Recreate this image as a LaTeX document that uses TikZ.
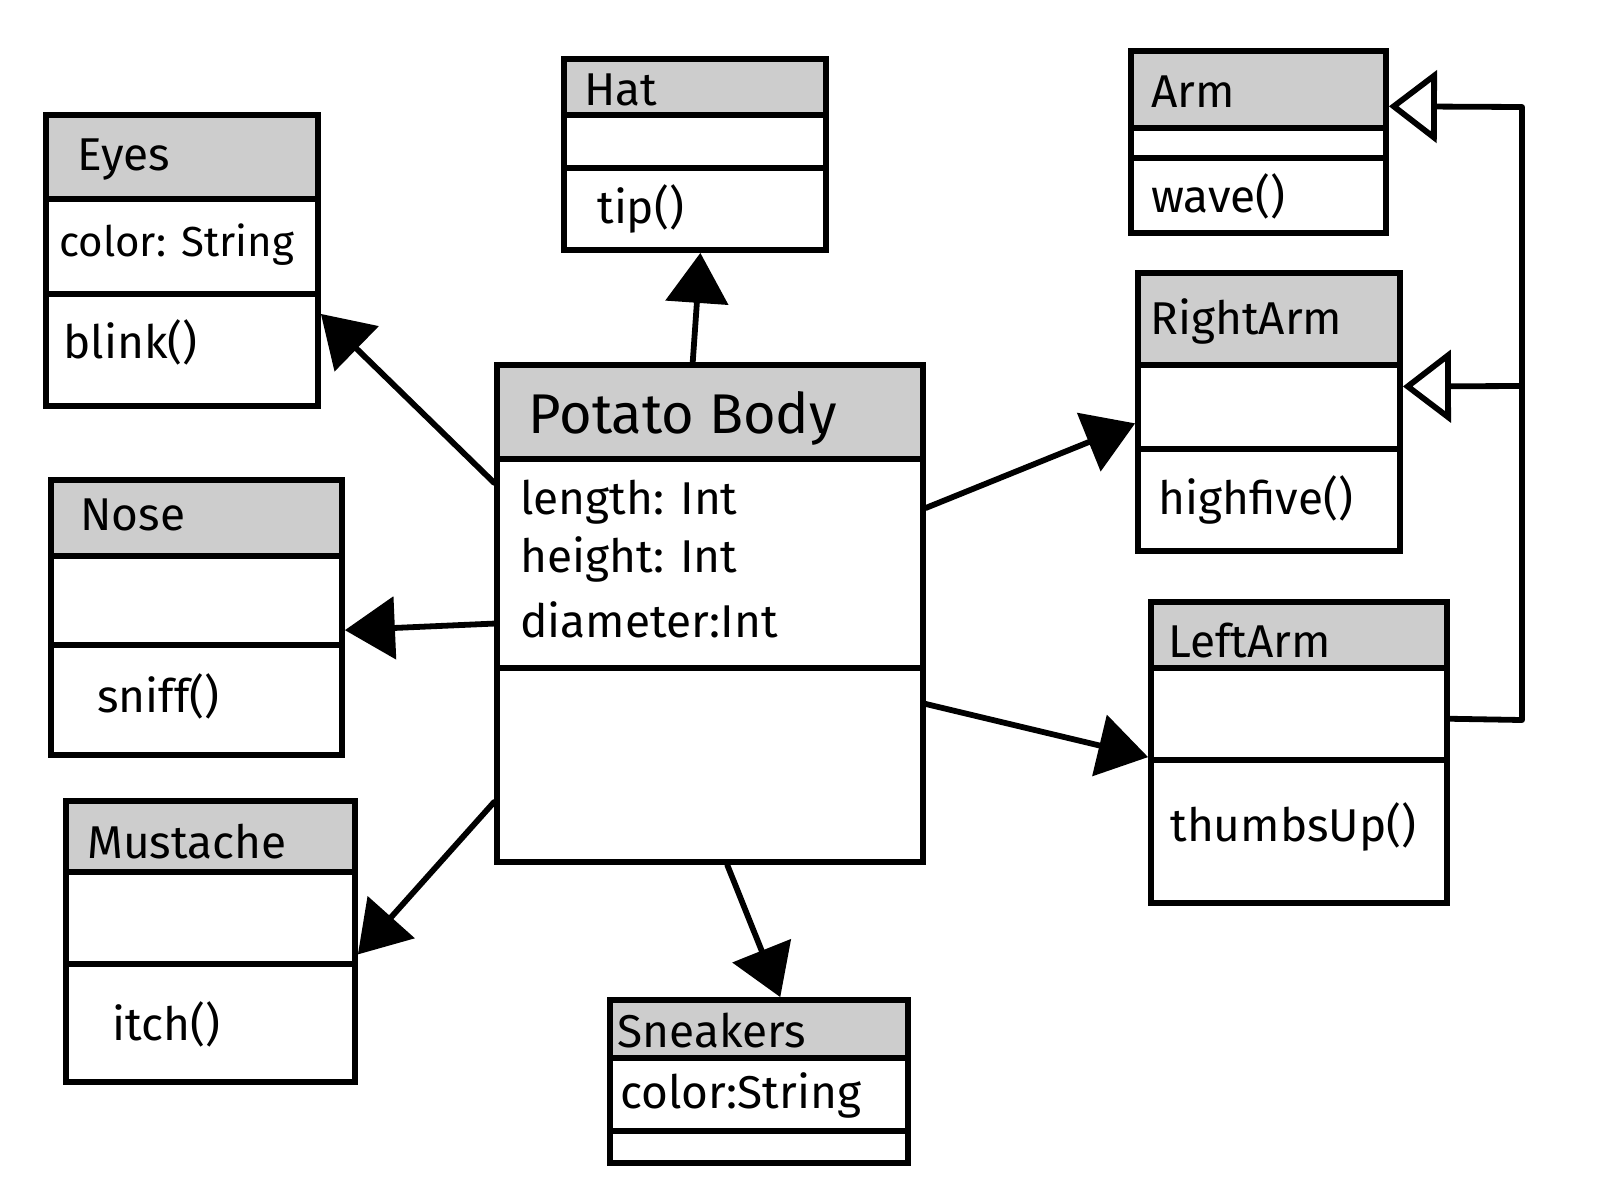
\documentclass[tikz,border=0pt]{standalone}
\usepackage{fontspec}
\setmainfont{Fira Sans}
\usetikzlibrary{arrows.meta,calc,fit}
\definecolor{hdrgray}{HTML}{CDCDCD}
\newcommand\umlbox[7]{%
  \fill[hdrgray] (#2,#3) rectangle (#4,#6);
  \draw[ln] (#2,#6) -- (#4,#6) (#2,#7) -- (#4,#7);
  \node[umlframe, fit={(#2,#3) (#4,#5)}] (#1) {};
}
\newcommand\lbl[4]{\node[txt] (#1) at (#2,#3) {#4};}
\begin{document}
\begin{tikzpicture}[x=0.5pt,y=-0.5pt,
  ln/.style={line width=2.9pt, line cap=round, line join=round},
  umlframe/.style={draw, line width=2.9pt, inner sep=0pt, rectangle},
  txt/.style={anchor=west, inner sep=0pt, font=\fontsize{23}{27}\selectfont},
  assoc/.style={ln, -{Triangle[length=25pt,width=31pt]}},
  gen/.style={ln, -{Triangle[open,length=24pt,width=36pt,fill=white]}},
]
\fill[white] (0,0) rectangle (1600,1200);
\useasboundingbox (0,0) rectangle (1600,1200);

% boxes: name, x1, y1, x2, y2, header bottom, attribute bottom
\umlbox{eyes}{46}{115}{318}{406}{199}{294}
\umlbox{nose}{51}{480}{342}{755}{556}{645}
\umlbox{mustache}{66}{801}{355}{1082}{872}{964}
\umlbox{hat}{564}{59}{826}{250}{115}{168}
\umlbox{body}{497}{365}{923}{862}{459}{668}
\umlbox{sneakers}{610}{1000}{908}{1163}{1058}{1131}
\umlbox{arm}{1131}{51}{1386}{233}{128}{158}
\umlbox{rightarm}{1138}{273}{1400}{551}{365}{449}
\umlbox{leftarm}{1151}{602}{1447}{903}{668}{760}

% texts
\lbl{teyes}{77}{160}{Eyes}
\node[txt, font=\fontsize{21}{25}\selectfont] (teyesa) at (59,245) {color: String};
\lbl{teyesm}{63}{342}{blink()}
\lbl{tnose}{80}{515}{Nose}
\lbl{tnosem}{97}{696}{sniff()}
\lbl{tmus}{87}{842}{Mustache}
\lbl{tmusm}{112}{1024}{itch()}
\lbl{that}{584}{90}{Hat}
\lbl{thatm}{597}{209}{tip()}
\node[txt, font=\fontsize{28}{32}\selectfont] (tbody) at (528,418) {Potato Body};
\lbl{tbody1}{520}{502}{length: Int}
\lbl{tbody2}{520}{559}{height: Int}
\lbl{tbody3}{520}{620}{diameter:Int}
\lbl{tsnk}{617}{1031}{Sneakers}
\lbl{tsnka}{620}{1095}{color:String}
\lbl{tarm}{1151}{92}{Arm}
\lbl{tarmm}{1151}{196}{wave()}
\lbl{tra}{1150}{321}{RightArm}
\lbl{tram}{1158}{500}{highfive()}
\lbl{tla}{1168}{641}{LeftArm}
\lbl{tlam}{1170}{827}{thumbsUp()}

% associations
\draw[assoc] ($(body.north west)!0.24!(body.south west)$) -- ($(eyes.north east)!0.68!(eyes.south east)$);
\draw[assoc] ($(body.north west)!0.52!(body.south west)$) -- ($(nose.north east)!0.545!(nose.south east)$);
\draw[assoc] ($(body.north west)!0.875!(body.south west)$) -- ($(mustache.north east)!0.545!(mustache.south east)$);
\draw[assoc] ($(body.north west)!0.46!(body.north east)$) -- ($(hat.south west)!0.52!(hat.south east)$);
\draw[assoc] ($(body.south west)!0.54!(body.south east)$) -- ($(sneakers.north west)!0.57!(sneakers.north east)$);
\draw[assoc] ($(body.north east)!0.29!(body.south east)$) -- ($(rightarm.north west)!0.54!(rightarm.south west)$);
\draw[assoc] ($(body.north east)!0.68!(body.south east)$) -- ($(leftarm.north west)!0.515!(leftarm.south west)$);

% generalisation
\coordinate (j1) at (1522,107);
\coordinate (j2) at (1522,386);
\coordinate (j3) at (1522,720);
\draw[gen] ($(leftarm.north east)!0.39!(leftarm.south east)$) -- (j3) -- (j1) -- ($(arm.north east)!0.31!(arm.south east)$);
\draw[gen] (j2) -- ($(rightarm.north east)!0.41!(rightarm.south east)$);
\end{tikzpicture}
\end{document}
